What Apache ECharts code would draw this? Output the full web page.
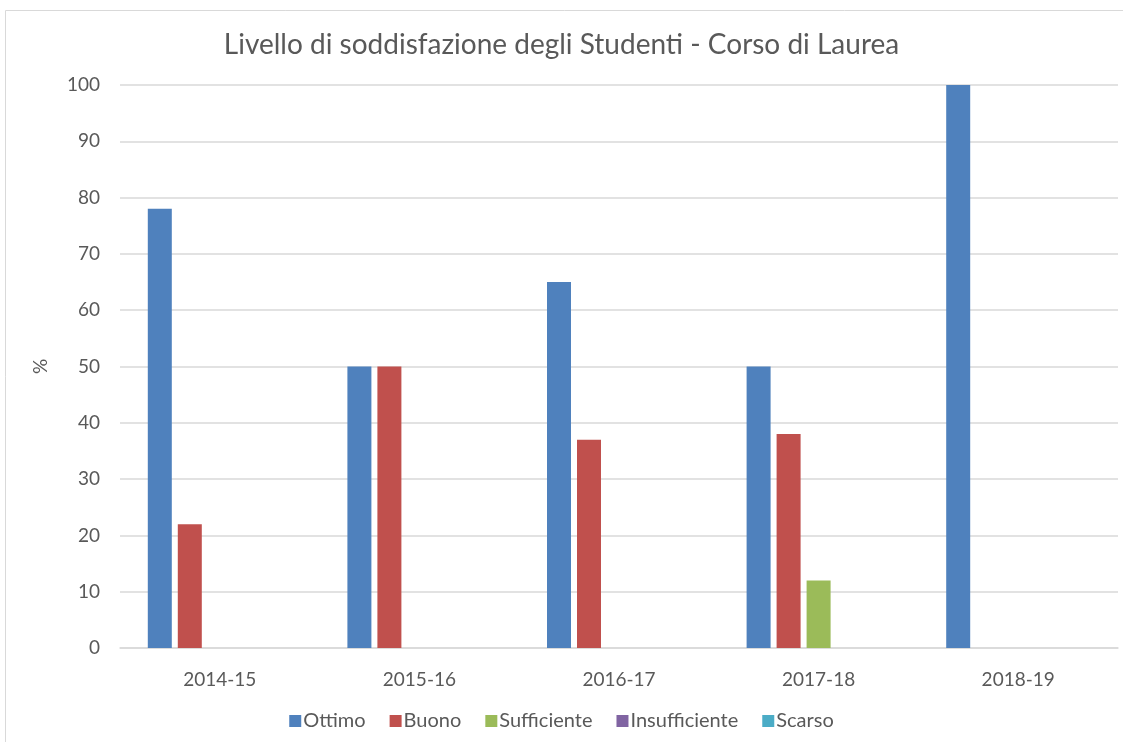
<!DOCTYPE html>
<html><head><meta charset="utf-8">
<script src="https://cdn.jsdelivr.net/npm/echarts@6/dist/echarts.min.js"></script>
<style>html,body{margin:0;padding:0;background:#fff}#c{width:1123px;height:742px}</style>
</head><body><div id="c"></div>
<script>
const categories = ['2014-15','2015-16','2016-17','2017-18','2018-19'];
const ottimo = [78, 50, 65, 50, 100];
const buono = [22, 50, 37, 38, 0];
const sufficiente = [0, 0, 0, 12, 0];
const insufficiente = [0, 0, 0, 0, 0];
const scarso = [0, 0, 0, 0, 0];
const seriesNames = ['Ottimo','Buono','Sufficiente','Insufficiente','Scarso'];
const seriesData = [ottimo, buono, sufficiente, insufficiente, scarso];
const colors = ['#4F81BD','#C0504D','#9BBB59','#8064A2','#4BACC6'];
const font = 'Lato, "Open Sans", sans-serif';
const chart = echarts.init(document.getElementById('c'));
chart.setOption({
  animation: false,
  color: colors,
  graphic: [{type:'rect', shape:{x:5.5,y:10.5,width:1130,height:740}, style:{fill:'none',stroke:'#d9d9d9',lineWidth:1}}],
  title: {text:'Livello di soddisfazione degli Studenti - Corso di Laurea', left:'center', top:26,
    textStyle:{fontFamily:font, fontSize:28, fontWeight:'normal', color:'#595959'}},
  legend: {bottom:6, left:'center', itemWidth:12, itemHeight:12, itemGap:24, icon:'rect',
    textStyle:{fontFamily:font, fontSize:20, color:'#595959', padding:[0,0,0,-3]}},
  grid: {left:120, right:5, top:85, bottom:94},
  xAxis: {type:'category', data:categories,
    axisLine:{lineStyle:{color:'#d9d9d9', width:1.5}}, axisTick:{show:false},
    axisLabel:{fontFamily:font, fontSize:19, color:'#595959', margin:22}},
  yAxis: {type:'value', min:0, max:100, interval:10, name:'%', nameLocation:'middle', nameGap:70,
    nameTextStyle:{fontFamily:font, fontSize:19, color:'#595959'},
    axisLine:{show:false}, axisTick:{show:false},
    axisLabel:{fontFamily:font, fontSize:19, color:'#595959', margin:20},
    splitLine:{lineStyle:{color:'#d9d9d9', width:1.5}}},
  series: seriesNames.map((n,i)=>({name:n, type:'bar', data:seriesData[i], barWidth:24,
    barGap:'25%'}))
});
</script></body></html>
